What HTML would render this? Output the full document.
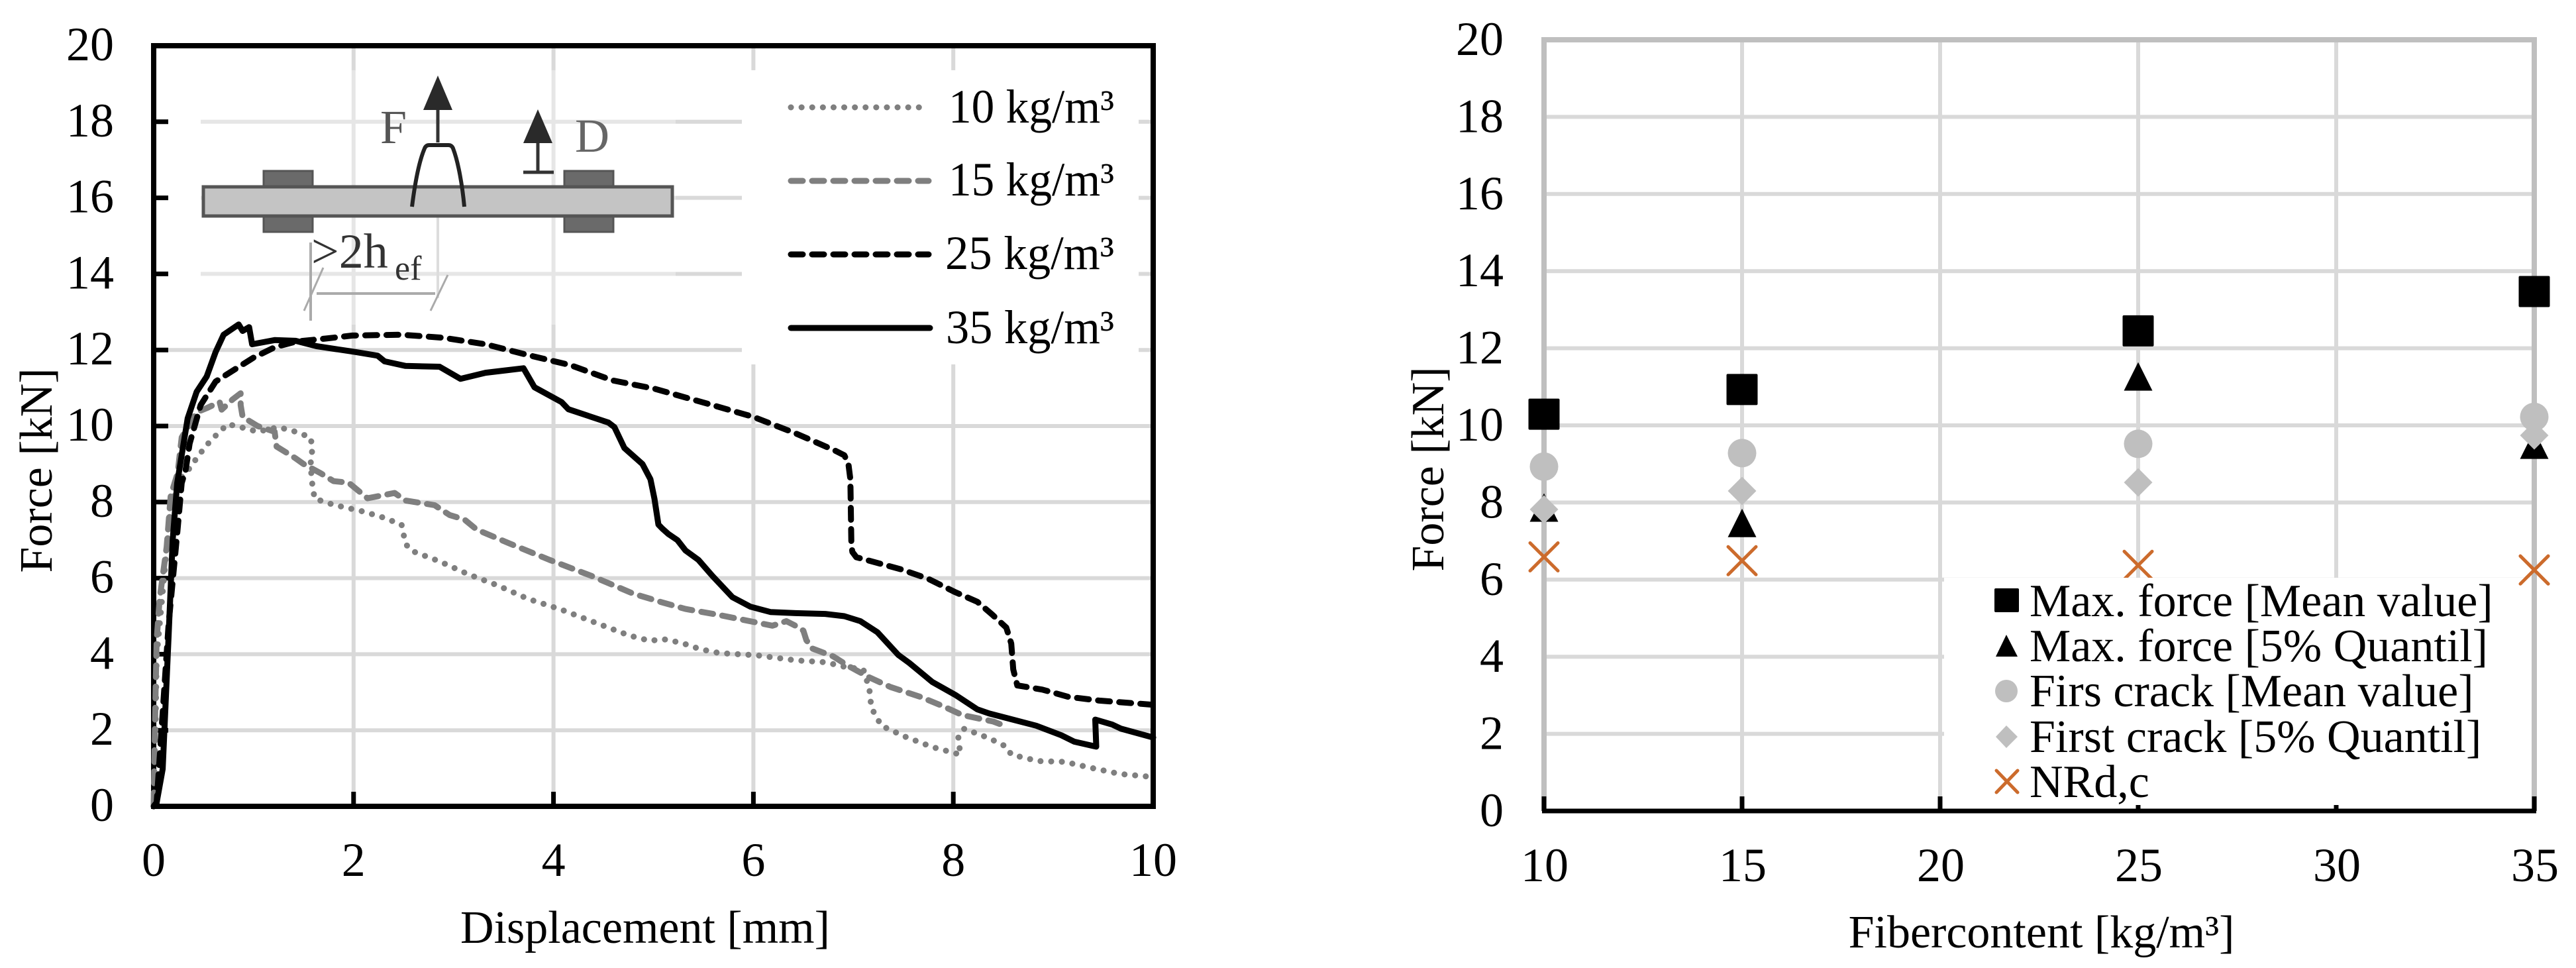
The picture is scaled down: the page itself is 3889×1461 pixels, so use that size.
<!DOCTYPE html>
<html lang="en">
<head>
<meta charset="utf-8">
<title>Force charts</title>
<style>
html,body{margin:0;padding:0;background:#fff;}
svg{display:block;}
text{font-family:"Liberation Serif",serif;fill:#000;}
</style>
</head>
<body>
<svg id="figure" xmlns="http://www.w3.org/2000/svg" width="3889" height="1461" viewBox="0 0 3889 1461">
  <rect width="3889" height="1461" fill="#fff"/>
  <g id="left-chart"></g>
  <g id="right-chart"></g>
</svg>
<script>
const SVGNS = 'http://www.w3.org/2000/svg';

/* ---------- left chart data ---------- */
const dispTicks = [0, 2, 4, 6, 8, 10];
const forceTicks = [0, 2, 4, 6, 8, 10, 12, 14, 16, 18, 20];

const curve10Disp = [0,0.02,0.03,0.09,0.17,0.26,0.36,0.45,0.57,0.74,0.87,1.04,1.25,1.42,1.57,1.59,1.57,1.58,1.61,1.8,2.1,2.29,2.48,2.52,2.58,2.86,3.15,3.45,3.74,4.08,4.38,4.76,4.97,5.09,5.28,5.47,5.66,6.04,6.42,6.72,6.91,7.1,7.16,7.18,7.28,7.52,7.79,8.07,8.05,8.11,8.36,8.53,8.58,8.85,9.11,9.4,9.67,10];
const curve10Force = [0.05,2.25,3.94,5.63,7.92,8.6,8.89,9.23,9.62,10.05,9.97,9.85,9.97,9.85,9.7,9.39,9.15,8.6,8.09,7.93,7.75,7.6,7.41,6.9,6.72,6.44,6.1,5.8,5.46,5.17,4.87,4.49,4.35,4.4,4.3,4.13,4.03,3.97,3.84,3.79,3.67,3.6,3.1,2.59,2.12,1.83,1.56,1.36,1.83,2.04,1.79,1.57,1.36,1.19,1.17,1.0,0.85,0.77];

const curve15Disp = [0,0.02,0.03,0.06,0.13,0.17,0.24,0.28,0.43,0.53,0.66,0.68,0.79,0.87,0.87,0.89,1.04,1.21,1.23,1.42,1.5,1.67,1.8,1.95,2.14,2.41,2.52,2.81,2.96,3.11,3.23,3.57,3.96,4.38,4.8,5.09,5.32,5.66,6.04,6.19,6.33,6.42,6.5,6.53,6.59,6.8,6.95,7.16,7.37,7.67,7.9,8.09,8.4,8.55];
const curve15Force = [0.05,3.1,4.37,5.47,6.82,8.17,8.76,9.7,10.36,10.47,10.63,10.43,10.7,10.86,10.55,10.24,10.0,9.85,9.46,9.15,9.0,8.76,8.55,8.51,8.1,8.24,8.04,7.92,7.66,7.54,7.28,6.9,6.48,6.06,5.59,5.36,5.19,5.03,4.83,4.75,4.87,4.75,4.62,4.37,4.15,3.94,3.69,3.39,3.14,2.88,2.63,2.4,2.23,2.08];

const curve25Disp = [0,0.03,0.15,0.24,0.28,0.32,0.36,0.47,0.62,0.83,1.0,1.21,1.42,1.72,1.99,2.48,2.9,3.32,3.74,4.17,4.59,5.01,5.59,6.0,6.42,6.82,6.91,6.95,6.97,6.98,6.99,7.03,7.48,7.75,8.02,8.24,8.39,8.53,8.58,8.6,8.64,8.89,9.15,9.46,10];
const curve25Force = [0,0.1,4.8,7.3,8.5,8.85,9.54,10.55,11.17,11.52,11.8,12.07,12.22,12.3,12.38,12.4,12.32,12.15,11.87,11.6,11.2,10.98,10.55,10.24,9.81,9.35,9.23,9.01,8.6,6.9,6.69,6.55,6.23,5.98,5.63,5.38,5.04,4.7,4.28,3.6,3.18,3.07,2.88,2.78,2.67];

const curve35Disp = [0,0.03,0.09,0.15,0.19,0.235,0.34,0.43,0.53,0.62,0.7,0.85,0.89,0.955,0.985,1.21,1.42,1.63,2.01,2.24,2.31,2.52,2.86,3.07,3.32,3.7,3.81,4.08,4.15,4.55,4.61,4.71,4.89,4.97,5.01,5.05,5.09,5.15,5.24,5.32,5.45,5.59,5.79,5.97,6.17,6.42,6.72,6.91,7.07,7.24,7.45,7.56,7.79,8.02,8.24,8.36,8.83,9.08,9.21,9.43,9.42,9.59,9.68,10];
const curve35Force = [0,0.1,0.98,4.5,7,8.5,10.2,10.9,11.3,11.95,12.4,12.67,12.5,12.6,12.15,12.26,12.24,12.1,11.95,11.85,11.7,11.58,11.56,11.24,11.4,11.52,11.02,10.63,10.44,10.09,9.97,9.42,9.0,8.6,8.09,7.41,7.3,7.16,7.0,6.73,6.48,6.06,5.5,5.25,5.11,5.08,5.06,5.0,4.87,4.58,3.98,3.77,3.27,2.93,2.55,2.44,2.12,1.87,1.7,1.57,2.28,2.15,2.04,1.81];

/* ---------- right chart data ---------- */
const fiberTicks = [10, 15, 20, 25, 30, 35];
const fiberCategories = [10, 15, 25, 35];
const maxForceMean = [10.29, 10.93, 12.45, 13.47];
const maxForceQuantile = [7.87, 7.47, 11.27, 9.5];
const firstCrackMean = [8.93, 9.28, 9.52, 10.22];
const firstCrackQuantile = [7.82, 8.3, 8.52, 9.74];
const nrdc = [6.59, 6.49, 6.37, 6.25];

/* ---------- axis functions ---------- */
const leftX = v => 232 + v * 150.9;
const leftY = v => 1217 - v * 57.4;
const rightX = v => 2331 + (v - 10) * 59.8;
const rightY = v => 1224 - v * 58.2;

function svgEl(parent, tag, attrs, text) {
  const el = document.createElementNS(SVGNS, tag);
  for (const k in attrs) el.setAttribute(k, attrs[k]);
  if (text !== undefined) el.textContent = text;
  parent.appendChild(el);
  return el;
}
function polyPoints(xs, ys, fx, fy) {
  return xs.map((x, i) => fx(x).toFixed(1) + ',' + fy(ys[i]).toFixed(1)).join(' ');
}

const GRID = '#d9d9d9', FRAME = '#bfbfbf', CURVE_GREY = '#7f7f7f', ORANGE = '#cc6b2c';
const DOT = '0.1 16', DASH = '18 14';
const left = document.getElementById('left-chart');
const right = document.getElementById('right-chart');

/* ---------- left chart: grid ---------- */
dispTicks.slice(1, -1).forEach(v => {
  const el = svgEl(left, 'line', {x1: leftX(v), x2: leftX(v), y1: leftY(20), y2: leftY(0), stroke: GRID, 'stroke-width': 6});
  
  
});
forceTicks.slice(1, -1).forEach(v => {
  const el = svgEl(left, 'line', {x1: leftX(0), x2: leftX(10), y1: leftY(v), y2: leftY(v), stroke: GRID, 'stroke-width': 6});
  
  
});

/* ---------- left chart: inset schematic ---------- */
const inset = svgEl(left, 'g', {});


inset.innerHTML = `
  <rect x="253" y="180" width="50" height="250" fill="#fff"/>
  <rect x="300" y="106" width="720" height="384" fill="#fff" fill-opacity="0.35"/>
  <line x1="661" x2="661" y1="327" y2="450" stroke="#ddd" stroke-width="4"/>
  <rect x="398" y="258" width="74" height="24" fill="#6a6a6a" stroke="#555" stroke-width="3"/>
  <rect x="398" y="326" width="74" height="24" fill="#6a6a6a" stroke="#555" stroke-width="3"/>
  <rect x="852" y="258" width="74" height="24" fill="#6a6a6a" stroke="#555" stroke-width="3"/>
  <rect x="852" y="326" width="74" height="24" fill="#6a6a6a" stroke="#555" stroke-width="3"/>
  <rect x="307" y="282" width="708" height="44" fill="#c4c4c4" stroke="#555" stroke-width="5"/>
  <path d="M622 312 C626 280 632 245 641 224 Q643 219 648 219 L677 219 Q682 219 684 224 C692 245 698 280 701 312" fill="none" stroke="#222" stroke-width="6"/>
  <line x1="661" x2="661" y1="165" y2="215" stroke="#333" stroke-width="5"/>
  <polygon points="661,114 639,166 683,166" fill="#2a2a2a"/>
  <text x="574" y="216" font-size="72" style="fill:#555">F</text>
  <line x1="812" x2="812" y1="215" y2="260" stroke="#333" stroke-width="5"/>
  <line x1="790" x2="836" y1="260" y2="260" stroke="#333" stroke-width="5"/>
  <polygon points="812,165 790,216 834,216" fill="#2a2a2a"/>
  <text x="868" y="229" font-size="72" style="fill:#666">D</text>
  <line x1="469" x2="469" y1="366" y2="484" stroke="#aaa" stroke-width="4"/>
  <line x1="478" x2="657" y1="443" y2="443" stroke="#aaa" stroke-width="4"/>
  <line x1="459" x2="488" y1="469" y2="404" stroke="#aaa" stroke-width="3"/>
  <line x1="650" x2="676" y1="469" y2="415" stroke="#aaa" stroke-width="3"/>
  <text x="470" y="404" font-size="74" style="fill:#333">&gt;2h</text>
  <text x="596" y="422" font-size="52" style="fill:#333">ef</text>`;

/* ---------- left chart: legend backdrop ---------- */
const lgBg = svgEl(left, 'rect', {x: 1120, y: 106, width: 599, height: 444, fill: '#fff'});



/* ---------- left chart: frame and ticks ---------- */
const leftFrame = svgEl(left, 'rect', {x: leftX(0), y: leftY(20), width: leftX(10) - leftX(0), height: leftY(0) - leftY(20), fill: 'none', stroke: '#000', 'stroke-width': 8});


dispTicks.slice(1, -1).forEach(v => {
  const el = svgEl(left, 'line', {x1: leftX(v), x2: leftX(v), y1: leftY(0) - 22, y2: leftY(0), stroke: '#000', 'stroke-width': 7});
  
  
});
forceTicks.slice(1, -1).forEach(v => {
  const el = svgEl(left, 'line', {x1: leftX(0), x2: leftX(0) + 22, y1: leftY(v), y2: leftY(v), stroke: '#000', 'stroke-width': 7});
  
  
});
dispTicks.forEach(v => {
  const el = svgEl(left, 'text', {x: leftX(v), y: 1322, 'font-size': 72, 'text-anchor': 'middle'}, String(v));
  
  
});
forceTicks.forEach(v => {
  const el = svgEl(left, 'text', {x: 172, y: leftY(v) + 22, 'font-size': 72, 'text-anchor': 'end'}, String(v));
  
  
});

/* ---------- left chart: curves ---------- */
const c10 = svgEl(left, 'polyline', {points: polyPoints(curve10Disp, curve10Force, leftX, leftY), fill: 'none', stroke: CURVE_GREY, 'stroke-width': 9, 'stroke-dasharray': DOT, 'stroke-linecap': 'round', 'stroke-linejoin': 'round'});


const c15 = svgEl(left, 'polyline', {points: polyPoints(curve15Disp, curve15Force, leftX, leftY), fill: 'none', stroke: CURVE_GREY, 'stroke-width': 9, 'stroke-dasharray': DASH, 'stroke-linecap': 'round', 'stroke-linejoin': 'round'});


const c25 = svgEl(left, 'polyline', {points: polyPoints(curve25Disp, curve25Force, leftX, leftY), fill: 'none', stroke: '#000', 'stroke-width': 9, 'stroke-dasharray': DASH, 'stroke-linecap': 'round', 'stroke-linejoin': 'round'});


const c35 = svgEl(left, 'polyline', {points: polyPoints(curve35Disp, curve35Force, leftX, leftY), fill: 'none', stroke: '#000', 'stroke-width': 9, 'stroke-linecap': 'round', 'stroke-linejoin': 'round'});



/* ---------- left chart: legend and titles ---------- */
const leftStatic = svgEl(left, 'g', {});


leftStatic.innerHTML = `
  <line x1="1194" x2="1402" y1="162" y2="162" stroke="#7f7f7f" stroke-width="9" stroke-linecap="round" stroke-dasharray="0.1 16"/>
  <text x="1432" y="185" font-size="72" textLength="250" lengthAdjust="spacingAndGlyphs">10 kg/m³</text>
  <line x1="1194" x2="1402" y1="273" y2="273" stroke="#7f7f7f" stroke-width="9" stroke-linecap="round" stroke-dasharray="18 14"/>
  <text x="1432" y="295" font-size="72" textLength="250" lengthAdjust="spacingAndGlyphs">15 kg/m³</text>
  <line x1="1194" x2="1402" y1="384" y2="384" stroke="#000" stroke-width="9" stroke-linecap="round" stroke-dasharray="18 14"/>
  <text x="1427" y="406" font-size="72" textLength="255" lengthAdjust="spacingAndGlyphs">25 kg/m³</text>
  <line x1="1194" x2="1404" y1="495" y2="495" stroke="#000" stroke-width="9" stroke-linecap="round"/>
  <text x="1428" y="518" font-size="72" textLength="254" lengthAdjust="spacingAndGlyphs">35 kg/m³</text>
  <text x="974" y="1423" font-size="70" text-anchor="middle">Displacement [mm]</text>
  <text transform="translate(78 710) rotate(-90)" font-size="70" text-anchor="middle">Force [kN]</text>`;

/* ---------- right chart: grid and frame ---------- */
fiberTicks.slice(1, -1).forEach(v => {
  const el = svgEl(right, 'line', {x1: rightX(v), x2: rightX(v), y1: rightY(20), y2: rightY(0), stroke: GRID, 'stroke-width': 6});
  
  
});
forceTicks.slice(1, -1).forEach(v => {
  const el = svgEl(right, 'line', {x1: rightX(10), x2: rightX(35), y1: rightY(v), y2: rightY(v), stroke: GRID, 'stroke-width': 6});
  
  
});
const rFrame = svgEl(right, 'path', {d: `M${rightX(10)} ${rightY(0)} V${rightY(20)} H${rightX(35)} V${rightY(0)}`, fill: 'none', stroke: FRAME, 'stroke-width': 8});


const rBase = svgEl(right, 'line', {x1: rightX(10) - 3, x2: rightX(35) + 3, y1: rightY(0), y2: rightY(0), stroke: '#000', 'stroke-width': 7});


fiberTicks.forEach(v => {
  const el = svgEl(right, 'line', {x1: rightX(v), x2: rightX(v), y1: rightY(0) - 22, y2: rightY(0), stroke: '#000', 'stroke-width': 7});
  
  
  const lb = svgEl(right, 'text', {x: rightX(v) + 1, y: 1330, 'font-size': 72, 'text-anchor': 'middle'}, String(v));
  
  
});
forceTicks.forEach(v => {
  const el = svgEl(right, 'text', {x: 2270, y: rightY(v) + 23, 'font-size': 72, 'text-anchor': 'end'}, String(v));
  
  
});

/* ---------- right chart: markers ---------- */
function drawSquare(cx, cy, s) {
  return svgEl(right, 'rect', {x: cx - s / 2, y: cy - s / 2, width: s, height: s, rx: 2, fill: '#000'});
}
function drawTriangle(cx, cy, s) {
  return svgEl(right, 'polygon', {points: `${cx},${cy - s / 2} ${cx - s / 2},${cy + s / 2} ${cx + s / 2},${cy + s / 2}`, fill: '#000'});
}
function drawCircle(cx, cy, s) {
  return svgEl(right, 'circle', {cx: cx, cy: cy, r: s / 2, fill: FRAME});
}
function drawDiamond(cx, cy, s) {
  return svgEl(right, 'polygon', {points: `${cx},${cy - s / 2} ${cx + s / 2},${cy} ${cx},${cy + s / 2} ${cx - s / 2},${cy}`, fill: FRAME});
}
function drawCross(cx, cy, s) {
  return svgEl(right, 'path', {d: `M${cx - s / 2} ${cy - s / 2} L${cx + s / 2} ${cy + s / 2} M${cx + s / 2} ${cy - s / 2} L${cx - s / 2} ${cy + s / 2}`, fill: 'none', stroke: ORANGE, 'stroke-width': 5, 'stroke-linecap': 'round'});
}
fiberCategories.forEach((c, i) => {
  const m1 = drawSquare(rightX(c), rightY(maxForceMean[i]), 47);
  
  
});
fiberCategories.forEach((c, i) => {
  const m2 = drawTriangle(rightX(c), rightY(maxForceQuantile[i]), 43);
  
  
});
fiberCategories.forEach((c, i) => {
  const m3 = drawCircle(rightX(c), rightY(firstCrackMean[i]), 43);
  
  
});
fiberCategories.forEach((c, i) => {
  const m4 = drawDiamond(rightX(c), rightY(firstCrackQuantile[i]), 43);
  
  
});
fiberCategories.forEach((c, i) => {
  const m5 = drawCross(rightX(c), rightY(nrdc[i]), 42);
  
  
});

/* ---------- right chart: legend and titles ---------- */
const rightStatic = svgEl(right, 'g', {});


rightStatic.innerHTML = `
  <rect x="2935" y="872" width="887" height="343" fill="#fff"/>
  <rect x="3011" y="888" width="37" height="36" rx="2" fill="#000"/>
  <text x="3064" y="930" font-size="70">Max. force [Mean value]</text>
  <polygon points="3029,958 3013,991 3046,991" fill="#000"/>
  <text x="3064" y="998" font-size="70">Max. force [5% Quantil]</text>
  <circle cx="3029" cy="1043" r="17" fill="#bfbfbf"/>
  <text x="3064" y="1066" font-size="70">Firs crack [Mean value]</text>
  <polygon points="3029,1095 3046,1112 3029,1129 3013,1112" fill="#bfbfbf"/>
  <text x="3064" y="1135" font-size="70">First crack [5% Quantil]</text>
  <path d="M3014 1163 L3046 1196 M3046 1163 L3014 1196" fill="none" stroke="#cc6b2c" stroke-width="5" stroke-linecap="round"/>
  <text x="3064" y="1203" font-size="70">NRd,c</text>
  <text x="3082" y="1430" font-size="70" text-anchor="middle">Fibercontent [kg/m³]</text>
  <text transform="translate(2179 708) rotate(-90)" font-size="70" text-anchor="middle">Force [kN]</text>`;

/* Redraw the right axis and 35 kg/m³ cross that sit above the legend backdrop edge */
const rEdge = svgEl(right, 'line', {x1: rightX(35), x2: rightX(35), y1: 872, y2: rightY(0) - 22, stroke: FRAME, 'stroke-width': 8});


const cross35 = drawCross(rightX(35), rightY(nrdc[3]), 42);


</script>
</body>
</html>
